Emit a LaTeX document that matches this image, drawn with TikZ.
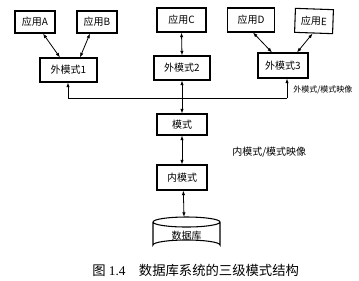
\documentclass[tikz,border=0pt]{standalone}
\usepackage{fontspec}
\setmainfont{Liberation Serif}
\newfontfamily\cjk{Noto Sans CJK SC}
\usetikzlibrary{arrows.meta}
\begin{document}
\begin{tikzpicture}[x=0.75pt,y=-0.75pt,
  box/.style={draw,line width=0.8pt,rectangle,inner sep=0pt,font=\cjk\fontsize{7.5}{8}\selectfont},
  link/.style={line width=0.6pt,{Latex[length=3.5pt,width=2.6pt]}-{Latex[length=3.5pt,width=2.6pt]}},
  up/.style={line width=0.6pt,-{Latex[length=3.5pt,width=2.6pt]}}]
\useasboundingbox (0,0) rectangle (359,280);
\node[box,minimum width=30pt,minimum height=16.5pt] (A) at (35,22) {应用A};
\node[box,minimum width=30pt,minimum height=16.5pt] (B) at (97,22) {应用B};
\node[box,minimum width=36.75pt,minimum height=18pt] (C) at (181.5,20) {应用C};
\node[box,minimum width=35.25pt,minimum height=18pt] (D) at (251,20) {应用D};
\node[box,minimum width=28.5pt,minimum height=18pt,rotate=-2] (E) at (314,21) {应用E};
\node[box,minimum width=42.75pt,minimum height=18pt] (W1) at (68.5,70) {外模式1};
\node[box,minimum width=42pt,minimum height=18pt] (W2) at (182,68) {外模式2};
\node[box,minimum width=37.5pt,minimum height=18.75pt] (W3) at (283,65.5) {外模式3};
\node[box,minimum width=37.5pt,minimum height=15.75pt] (M) at (182,124.5) {模式};
\node[box,minimum width=37.5pt,minimum height=18.75pt] (N) at (182,177.5) {内模式};
% database cylinder
\draw[line width=0.8pt] (153,222) arc[start angle=180,end angle=-180,x radius=33.5,y radius=5]
  (153,222) -- (153,245) arc[start angle=180,end angle=360,x radius=33.5,y radius=5] -- (220,222);
\node[font=\cjk\fontsize{7.5}{8}\selectfont] (DB) at (186.5,236) {数据库};
\coordinate (dbtop) at (184,217);
% connectors
\draw[link] ([xshift=6pt]A.south) -- ([xshift=-6.4pt]W1.north);
\draw[link] ([xshift=-5.25pt]B.south) -- ([xshift=8.6pt]W1.north);
\draw[link] (C.south) -- (W2.north);
\draw[link] ([xshift=1.5pt]D.south) -- ([xshift=-8.25pt]W3.north);
\draw[link] ([xshift=-0.75pt]E.south) -- ([xshift=10.5pt]W3.north);
\draw[link] (W2.south) -- (M.north);
\draw[link] (M.south) -- (N.north);
\draw[link] ([xshift=1pt]N.south) -- (dbtop);
\coordinate (h1) at (68,98);
\coordinate (h3) at (287,98);
\draw[line width=0.6pt] (h1) -- (h3);
\draw[up] (h1) -- (h1 |- W1.south);
\draw[up] (h3) -- (h3 |- W3.south);
% labels
\node[anchor=west,inner sep=0pt,font=\cjk\fontsize{6}{7}\selectfont] (L1) at (293,90) {外模式/模式映像};
\node[anchor=west,inner sep=0pt,font=\cjk\fontsize{7.5}{8}\selectfont] (L2) at (232,152) {内模式/模式映像};
\node[anchor=west,inner sep=0pt,font=\fontsize{10}{12}\selectfont] (cap) at (92,270) {{\cjk 图} 1.4\hspace{1em}{\cjk 数据库系统的三级模式结构}};
\end{tikzpicture}
\end{document}
